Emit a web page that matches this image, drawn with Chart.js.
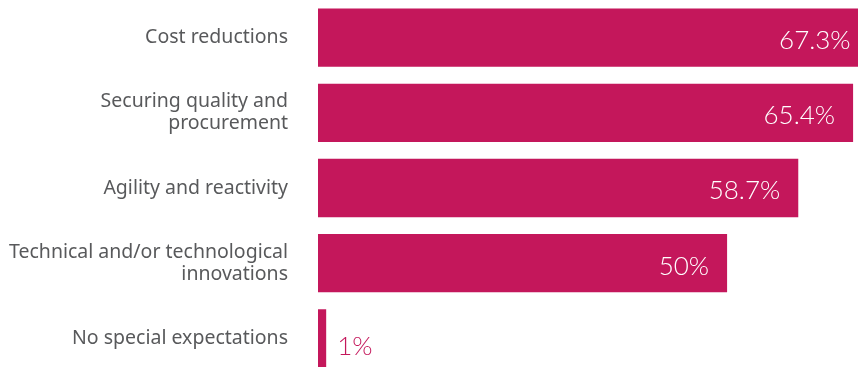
<!DOCTYPE html>
<html>
<head>
<meta charset="utf-8">
<script src="https://cdn.jsdelivr.net/npm/chart.js@4/dist/chart.umd.min.js"></script>
<style>
  html, body { margin: 0; padding: 0; background: #fff; overflow: hidden; }
  #wrap { position: relative; width: 858px; height: 376px; }
</style>
</head>
<body>
<div id="wrap"><canvas id="barChart"></canvas></div>
<script>
// data
var categories = [
  "Cost reductions",
  ["Securing quality and", "procurement"],
  "Agility and reactivity",
  ["Technical and/or technological", "innovations"],
  "No special expectations"
];
var values = [67.3, 65.4, 58.7, 50, 1];
var valueLabels = ["67.3%", "65.4%", "58.7%", "50%", "1%"];

var barColor = "#C4175B";

// draws the percentage at the end of each bar
var valueLabelPlugin = {
  id: 'valueLabels',
  afterDatasetsDraw: function (chart) {
    var ctx = chart.ctx;
    var meta = chart.getDatasetMeta(0);
    ctx.save();
    ctx.font = '300 26px Lato';
    ctx.textBaseline = 'middle';
    meta.data.forEach(function (bar, i) {
      var w = bar.x - bar.base;
      if (w > 80) {
        ctx.fillStyle = '#ffffff';
        ctx.textAlign = 'right';
        ctx.fillText(valueLabels[i], bar.x - 18, bar.y + 3);
      } else {
        ctx.fillStyle = barColor;
        ctx.textAlign = 'left';
        ctx.fillText(valueLabels[i], bar.x + 11, bar.y + 8);
      }
    });
    ctx.restore();
  }
};

var ctx = document.getElementById("barChart").getContext('2d');
new Chart(ctx, {
  type: 'bar',
  data: {
    labels: categories,
    datasets: [{
      data: values,
      backgroundColor: barColor,
      borderWidth: 0,
      barPercentage: 0.775,
      categoryPercentage: 1
    }]
  },
  options: {
    indexAxis: 'y',
    responsive: true,
    maintainAspectRatio: false,
    animation: false,
    layout: { padding: 0 },
    plugins: {
      legend: { display: false },
      tooltip: { enabled: false }
    },
    scales: {
      x: {
        display: false,
        min: 0,
        max: 66
      },
      y: {
        grid: { display: false },
        border: { display: false },
        ticks: {
          padding: 22,
          color: '#58595b',
          font: { family: 'Noto Sans', size: 19.5, lineHeight: 1.13 }
        },
        afterFit: function (scale) {
          scale.width = 318;
          scale.paddingTop = 0;
          scale.paddingBottom = 0;
        }
      }
    }
  },
  plugins: [valueLabelPlugin]
});
</script>
</body>
</html>
